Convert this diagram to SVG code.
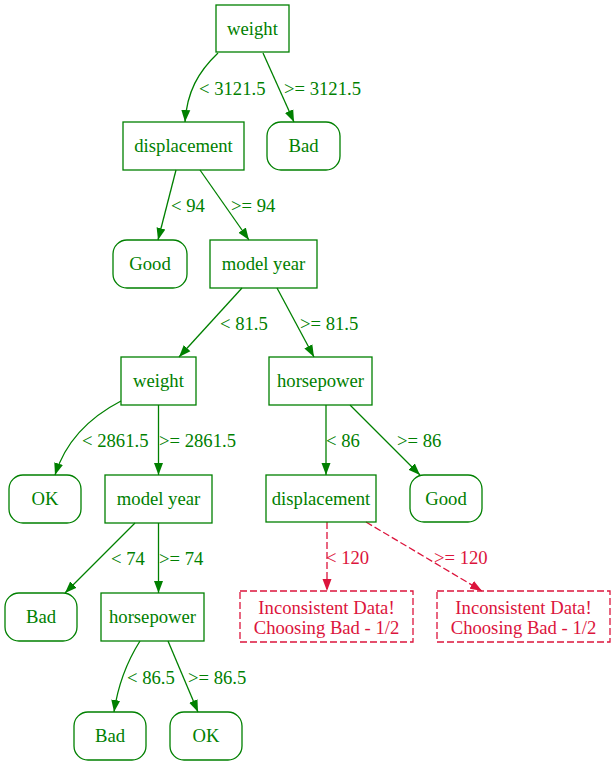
<svg xmlns="http://www.w3.org/2000/svg" width="616" height="765" viewBox="0 0 616 765">
<style>
text{font-family:"Liberation Serif","Times New Roman",serif;font-size:18.67px}
.n rect{fill:none;stroke:#008000;stroke-width:1.3}
.n text{fill:#008000;text-anchor:middle}
.bad rect{fill:none;stroke:#dc143c;stroke-width:1.3;stroke-dasharray:7,3}
.bad text{fill:#dc143c;text-anchor:middle}
.e path{fill:none;stroke:#008000;stroke-width:1.3}
.e text{fill:#008000}
.d path{fill:none;stroke:#dc143c;stroke-width:1.3;stroke-dasharray:7,3}
.d text{fill:#dc143c}
</style>
<defs>
<marker id="ag" markerUnits="userSpaceOnUse" markerWidth="14" markerHeight="10" refX="12" refY="5" orient="auto"><path d="M0,0.5L12,5L0,9.5z" fill="#008000"/></marker>
<marker id="ar" markerUnits="userSpaceOnUse" markerWidth="14" markerHeight="10" refX="12" refY="5" orient="auto"><path d="M0,0.5L12,5L0,9.5z" fill="#dc143c"/></marker>
</defs>
<g id="edges">
<g class="e">
<path d="M218,53C198,72 187,92 185,122" marker-end="url(#ag)"/><text x="199" y="95">&lt; 3121.5</text>
<path d="M263,53L294,122" marker-end="url(#ag)"/><text x="284" y="95">&gt;= 3121.5</text>
<path d="M176,170L158,240" marker-end="url(#ag)"/><text x="171" y="212">&lt; 94</text>
<path d="M200,170L249,240" marker-end="url(#ag)"/><text x="231" y="212">&gt;= 94</text>
<path d="M242,288L179,357" marker-end="url(#ag)"/><text x="220" y="330">&lt; 81.5</text>
<path d="M277,288L314,357" marker-end="url(#ag)"/><text x="300" y="330">&gt;= 81.5</text>
<path d="M121,401C92,416 66,440 55,475" marker-end="url(#ag)"/><text x="82" y="447">&lt; 2861.5</text>
<path d="M158.5,405L158.5,475" marker-end="url(#ag)"/><text x="159" y="447">&gt;= 2861.5</text>
<path d="M326,405L326,475" marker-end="url(#ag)"/><text x="326" y="447">&lt; 86</text>
<path d="M350,405L420,475" marker-end="url(#ag)"/><text x="397" y="447">&gt;= 86</text>
<path d="M135,523L65,593" marker-end="url(#ag)"/><text x="111" y="565">&lt; 74</text>
<path d="M158.5,523L158.5,593" marker-end="url(#ag)"/><text x="159" y="565">&gt;= 74</text>
<path d="M140,641C128,660 118,685 114,712" marker-end="url(#ag)"/><text x="127" y="684">&lt; 86.5</text>
<path d="M168,641L198,712" marker-end="url(#ag)"/><text x="188" y="684">&gt;= 86.5</text>
</g>
<g class="d">
<path d="M327,522L327,591" marker-end="url(#ar)"/><text x="326" y="564">&lt; 120</text>
<path d="M366,522L482,591" marker-end="url(#ar)"/><text x="434" y="564">&gt;= 120</text>
</g>
</g>
<g id="n1" class="n"><rect x="216" y="5" width="73" height="47"/><text x="252.5" y="35">weight</text></g>
<g id="n2" class="n"><rect x="123" y="122" width="121" height="48"/><text x="183.5" y="152">displacement</text></g>
<g id="n3" class="n"><rect x="267" y="122" width="73" height="48" rx="14"/><text x="303.5" y="152">Bad</text></g>
<g id="n4" class="n"><rect x="113" y="240" width="74" height="48" rx="14"/><text x="150" y="270">Good</text></g>
<g id="n5" class="n"><rect x="210" y="240" width="107" height="48"/><text x="263.5" y="270">model year</text></g>
<g id="n6" class="n"><rect x="121" y="357" width="75" height="48"/><text x="158.5" y="387">weight</text></g>
<g id="n7" class="n"><rect x="269" y="357" width="103" height="48"/><text x="320.5" y="387">horsepower</text></g>
<g id="n8" class="n"><rect x="9" y="475" width="72" height="48" rx="14"/><text x="45" y="505">OK</text></g>
<g id="n9" class="n"><rect x="105" y="475" width="107" height="48"/><text x="158.5" y="505">model year</text></g>
<g id="n10" class="n"><rect x="266" y="475" width="110" height="47"/><text x="321" y="505">displacement</text></g>
<g id="n11" class="n"><rect x="410" y="475" width="72" height="47" rx="14"/><text x="446" y="505">Good</text></g>
<g id="n12" class="n"><rect x="5" y="593" width="72" height="48" rx="14"/><text x="41" y="623">Bad</text></g>
<g id="n13" class="n"><rect x="101" y="593" width="103" height="48"/><text x="152.5" y="623">horsepower</text></g>
<g id="n14" class="bad"><rect x="240" y="591" width="173" height="51"/><text x="326.5" y="614">Inconsistent Data!</text><text x="326.5" y="634">Choosing Bad - 1/2</text></g>
<g id="n15" class="bad"><rect x="437" y="591" width="173" height="51"/><text x="523.5" y="614">Inconsistent Data!</text><text x="523.5" y="634">Choosing Bad - 1/2</text></g>
<g id="n16" class="n"><rect x="74" y="712" width="72" height="48" rx="14"/><text x="110" y="742">Bad</text></g>
<g id="n17" class="n"><rect x="170" y="712" width="72" height="48" rx="14"/><text x="206" y="742">OK</text></g>
</svg>
